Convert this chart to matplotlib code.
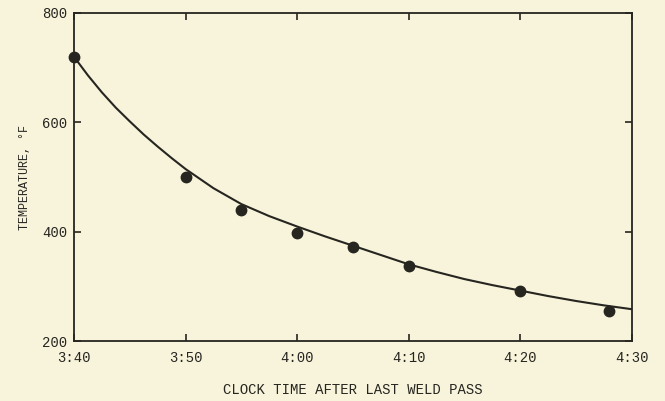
import numpy as np
import matplotlib
matplotlib.use("Agg")
import matplotlib.pyplot as plt

# minutes after 3:40 and measured temperature (deg F)
minutes = [0, 10, 15, 20, 25, 30, 40, 48]
temps = [720, 500, 440, 398, 372, 337, 293, 256]

# faired curve
curve_min = [0, 1.25, 2.5, 3.75, 5, 6.25, 7.5, 8.75, 10, 12.5, 15, 17.5, 20,
             22.5, 25, 27.5, 30, 32.5, 35, 37.5, 40, 42.5, 45, 47.5, 50]
curve_temp = [720, 686, 655, 627, 602, 578, 556, 535, 515, 480, 451, 429, 410,
              392, 375, 358, 341, 327, 314, 303, 293, 283, 274, 266, 259]

xtick_pos = [0, 10, 20, 30, 40, 50]
xtick_labels = ["3:40", "3:50", "4:00", "4:10", "4:20", "4:30"]
ytick_pos = [200, 400, 600, 800]

paper = "#f8f4dc"
ink = "#26251f"
font = ["Liberation Mono", "DejaVu Sans Mono"]

fig = plt.figure(figsize=(6.65, 4.01), dpi=100, facecolor=paper)
ax = fig.add_axes([0.1113, 0.1484, 0.8387, 0.8192], facecolor=paper)

ax.plot(curve_min, curve_temp, color=ink, lw=1.5, solid_capstyle="round",
        solid_joinstyle="round")
ax.plot(minutes, temps, "o", color=ink, ms=7.5, clip_on=False)

ax.set_xlim(0, 50)
ax.set_ylim(200, 800)
ax.set_xticks(xtick_pos)
ax.set_xticklabels(xtick_labels)
ax.set_yticks(ytick_pos)

for s in ax.spines.values():
    s.set_color(ink)
    s.set_linewidth(1.3)

ax.tick_params(direction="in", length=5, width=1.2, color=ink,
               top=True, right=True, labelsize=10, labelcolor=ink, pad=7)
ax.tick_params(axis="y", pad=5)
for lab in ax.get_xticklabels() + ax.get_yticklabels():
    lab.set_family(font)

ax.set_xlabel("CLOCK TIME AFTER LAST WELD PASS", family=font, fontsize=10,
              color=ink, labelpad=13)
ax.set_ylabel("TEMPERATURE, °F", family=font, fontsize=8.5, color=ink,
              labelpad=8)

fig.savefig("out.png", dpi=100, facecolor=paper)
